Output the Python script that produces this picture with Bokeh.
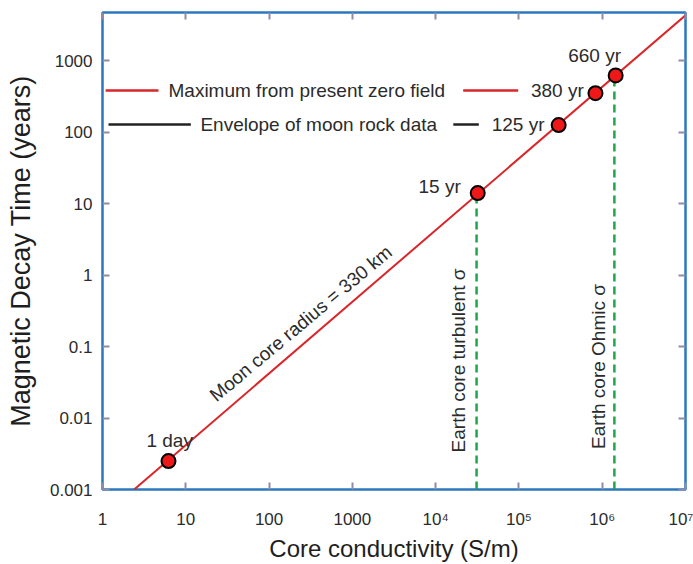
import math
from bokeh.plotting import figure
from bokeh.models import Range1d, LogAxis, FixedTicker, Label
from bokeh.embed import file_html
from bokeh.resources import INLINE

# ---------------- data ----------------
x_ticks = [1, 10, 100, 1000, 1e4, 1e5, 1e6, 1e7]
x_tick_labels = ["1", "10", "100", "1000", "10⁴", "10⁵", "10⁶", "10⁷"]
y_ticks = [0.001, 0.01, 0.1, 1, 10, 100, 1000]
y_tick_labels = ["0.001", "0.01", "0.1", "1", "10", "100", "1000"]

# Moon core (radius 330 km) decay-time line
line_sigma = [2.4, 1.0e7]
line_tau = [0.001, 4300]

# marked points on the line
point_sigma = [6.2, 3.2e4, 3.0e5, 8.3e5, 1.45e6]
point_tau = [0.0025, 14, 125, 350, 620]
point_labels = ["1 day", "15 yr", "125 yr", "380 yr", "660 yr"]

# Earth core conductivities (vertical dashed lines)
earth_sigma = [3.1e4, 1.4e6]
earth_tau_top = [14, 620]
earth_labels = ["Earth core turbulent σ", "Earth core Ohmic σ"]

legend_labels = ["Maximum from present zero field", "Envelope of moon rock data"]
line_label = "Moon core radius = 330 km"

# ---------------- styling / layout ----------------
FONT = "Liberation Sans"
TXT = "#2b2b2b"
RED = "#d8262a"
GREEN = "#1fa64a"
BLUE = "#2b78bd"
TICK = "#8c8cab"

p = figure(
    x_axis_type="log", y_axis_type="log",
    x_range=Range1d(1, 1e7), y_range=Range1d(0.001, 4700),
    width=693, height=564,
    output_backend="svg", toolbar_location=None,
    min_border_left=102, min_border_right=8, min_border_top=12, min_border_bottom=75,
    background_fill_color="white", border_fill_color="white",
)
p.grid.visible = False
p.outline_line_color = BLUE
p.outline_line_width = 2.5


def style_axis(ax, ticks, labels, show_labels=True):
    ax.ticker = FixedTicker(ticks=ticks, minor_ticks=[])
    ax.axis_line_color = None
    ax.major_tick_in = 7
    ax.major_tick_out = 0
    ax.major_tick_line_color = TICK
    ax.major_tick_line_width = 2
    ax.minor_tick_line_color = None
    if show_labels:
        ax.major_label_overrides = {t: l for t, l in zip(ticks, labels)}
        ax.major_label_text_font = FONT
        ax.major_label_text_font_size = "17px"
        ax.major_label_text_color = TXT
    else:
        ax.major_label_overrides = {t: "" for t in ticks}
        ax.major_label_text_font_size = "0px"
        ax.major_label_standoff = 0


style_axis(p.xaxis[0], x_ticks, x_tick_labels)
style_axis(p.yaxis[0], y_ticks, y_tick_labels)
p.xaxis[0].major_label_standoff = 20
p.yaxis[0].major_label_standoff = 10

p.xaxis[0].axis_label = "Core conductivity (S/m)"
p.xaxis[0].axis_label_text_font = FONT
p.xaxis[0].axis_label_text_font_size = "24px"
p.xaxis[0].axis_label_text_font_style = "normal"
p.xaxis[0].axis_label_text_color = "#1e1e1e"
p.xaxis[0].axis_label_standoff = 3

p.yaxis[0].axis_label = "Magnetic Decay Time (years)"
p.yaxis[0].axis_label_text_font = FONT
p.yaxis[0].axis_label_text_font_size = "27px"
p.yaxis[0].axis_label_text_font_style = "normal"
p.yaxis[0].axis_label_text_color = "#1e1e1e"
p.yaxis[0].axis_label_standoff = 11

top_ax = LogAxis()
style_axis(top_ax, x_ticks, x_tick_labels, show_labels=False)
p.add_layout(top_ax, "above")
right_ax = LogAxis()
style_axis(right_ax, y_ticks, y_tick_labels, show_labels=False)
p.add_layout(right_ax, "right")

# green dashed Earth-core lines (from bottom up to the marker)
p.segment(x0=earth_sigma, y0=[0.001] * len(earth_sigma), x1=earth_sigma, y1=earth_tau_top,
          line_color=GREEN, line_width=2.5, line_dash="8 5")

# main red line
p.line(line_sigma, line_tau, line_color=RED, line_width=2)

# "legend" rows: line – text – line, at the 380 yr and 125 yr levels
legend_levels = [380, 127]
legend_colors = [RED, "#222222"]
legend_left_seg = [(1.09, 4.7), (1.18, 11.5)]
legend_text_x = [6.2, 15]
legend_right_seg = [(2.14e4, 9.8e4), (1.63e4, 3.3e4)]
for lab, lev, col, ls, tx, rs in zip(legend_labels, legend_levels, legend_colors,
                                     legend_left_seg, legend_text_x, legend_right_seg):
    p.segment(x0=[ls[0], rs[0]], y0=[lev, lev], x1=[ls[1], rs[1]], y1=[lev, lev],
              line_color=col, line_width=2.5)
    p.add_layout(Label(x=tx, y=lev, text=lab, text_font=FONT, text_font_size="19px",
                       text_color=TXT, text_align="left", text_baseline="middle"))

# markers
p.scatter(point_sigma, point_tau, size=14, fill_color="#ee1818", line_color="black",
          line_width=2)

# point labels: (x, y, align, baseline)
label_pos = [
    (6.4, 0.0049, "center", "middle"),
    (2.0e4, 17.4, "right", "middle"),
    (2.03e5, 127, "right", "middle"),
    (6.0e5, 380, "right", "middle"),
    (8.1e5, 830, "center", "bottom"),
]
for txt, (lx, ly, al, bl) in zip(point_labels, label_pos):
    p.add_layout(Label(x=lx, y=ly, text=txt, text_font=FONT, text_font_size="19px",
                       text_color=TXT, text_align=al, text_baseline=bl))

# rotated Earth-core labels
earth_label_pos = [(1.86e4, 0.0033), (9.1e5, 0.0037)]
for txt, (lx, ly) in zip(earth_labels, earth_label_pos):
    p.add_layout(Label(x=lx, y=ly, text=txt, text_font=FONT, text_font_size="19px",
                       text_color=TXT, text_align="left", text_baseline="middle",
                       angle=math.pi / 2))

# label along the line
p.add_layout(Label(x=240, y=0.21, text=line_label, text_font=FONT, text_font_size="19px",
                   text_color=TXT, text_align="center", text_baseline="middle",
                   angle=math.radians(40)))

open("out.html", "w").write(file_html(p, INLINE))
